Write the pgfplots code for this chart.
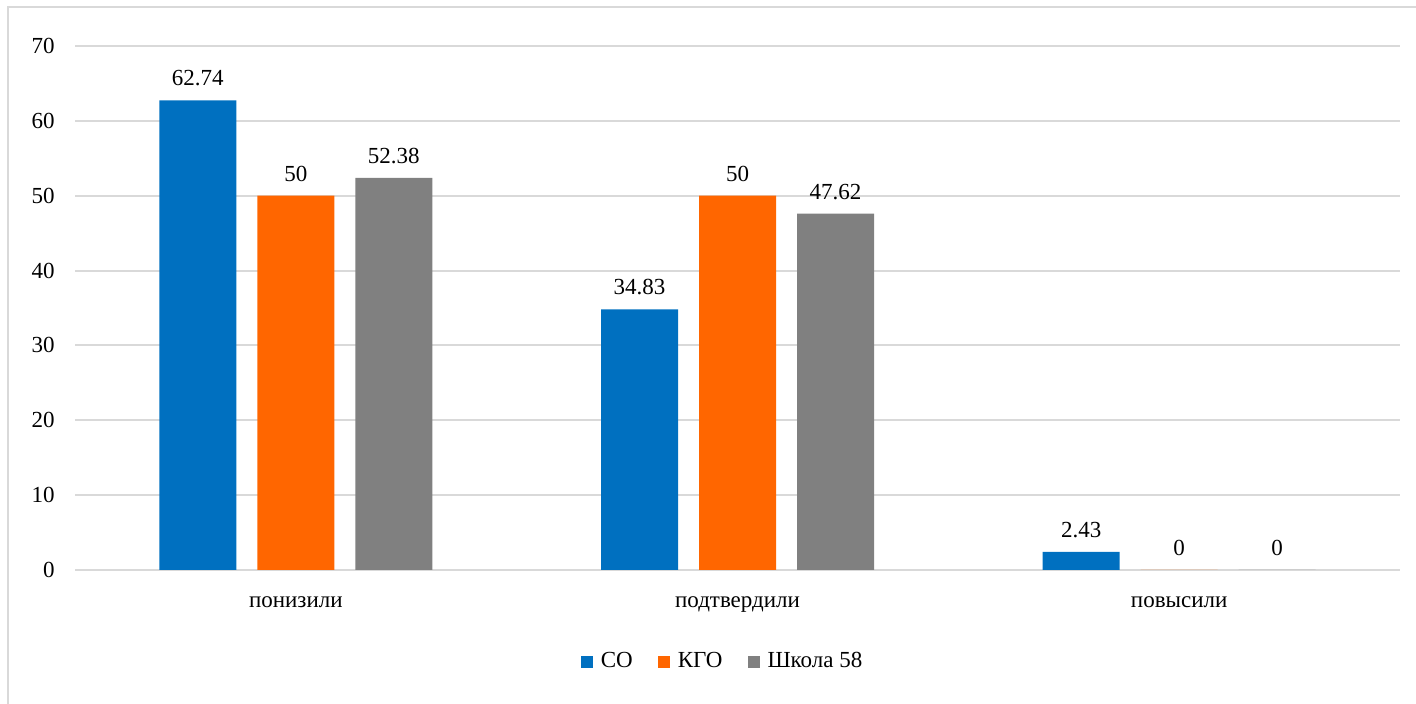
\documentclass[border=0pt]{standalone}
\usepackage{pgfplots}
\pgfplotsset{compat=1.18}
\usepackage{fontspec}
\setmainfont{Liberation Serif}
\definecolor{cblue}{RGB}{0,112,192}
\definecolor{corange}{RGB}{255,102,0}
\definecolor{cgray}{RGB}{128,128,128}
\definecolor{gridc}{RGB}{217,217,217}
\begin{document}
\fontsize{11.5pt}{14pt}\selectfont
\begin{tikzpicture}
\useasboundingbox (0pt,0pt) rectangle (708pt,352pt);
\clip (0pt,0pt) rectangle (708pt,352pt);
\draw[gridc, line width=0.8pt] (4pt,-10pt) rectangle (720pt,348.5pt);
\begin{axis}[
  at={(37.5pt,67pt)}, anchor=south west,
  scale only axis, width=662.5pt, height=262pt,
  xmin=-0.5, xmax=2.5, ymin=0, ymax=70,
  ytick={0,10,...,70},
  xtick={0,1,2}, xticklabels={понизили,подтвердили,повысили},
  axis line style={draw=none}, major tick length=0pt,
  ymajorgrids, grid style={gridc, line width=1pt},
  ybar=10.5pt, bar width=38.5pt,
  /pgf/number format/.cd, fixed, precision=2, assume math mode=true, /pgfplots/.cd,
  nodes near coords,
  every node near coord/.append style={font=\fontsize{11.5pt}{14pt}\selectfont, yshift=3pt},
  tick label style={font=\fontsize{11.5pt}{14pt}\selectfont},
  yticklabel style={anchor=east, xshift=-6.2pt},
  xticklabel style={anchor=base, yshift=-19pt},
  legend style={at={(0.488,-0.1756)}, anchor=center, draw=none, fill=none,
    legend columns=-1,
    font=\fontsize{11.5pt}{14pt}\selectfont,
    nodes={inner sep=0pt},
    /tikz/every odd column/.append style={column sep=4pt},
    /tikz/every even column/.append style={column sep=12.5pt}},
  legend image code/.code={\fill[#1] (0pt,-3pt) rectangle (6pt,3pt);},
]
\addplot[fill=cblue, draw=none] coordinates {(0,62.74) (1,34.83) (2,2.43)};
\addplot[fill=corange, draw=none] coordinates {(0,50) (1,50) (2,0)};
\addplot[fill=cgray, draw=none] coordinates {(0,52.38) (1,47.62) (2,0)};
\legend{СО,КГО,Школа 58}
\end{axis}
\end{tikzpicture}
\end{document}
